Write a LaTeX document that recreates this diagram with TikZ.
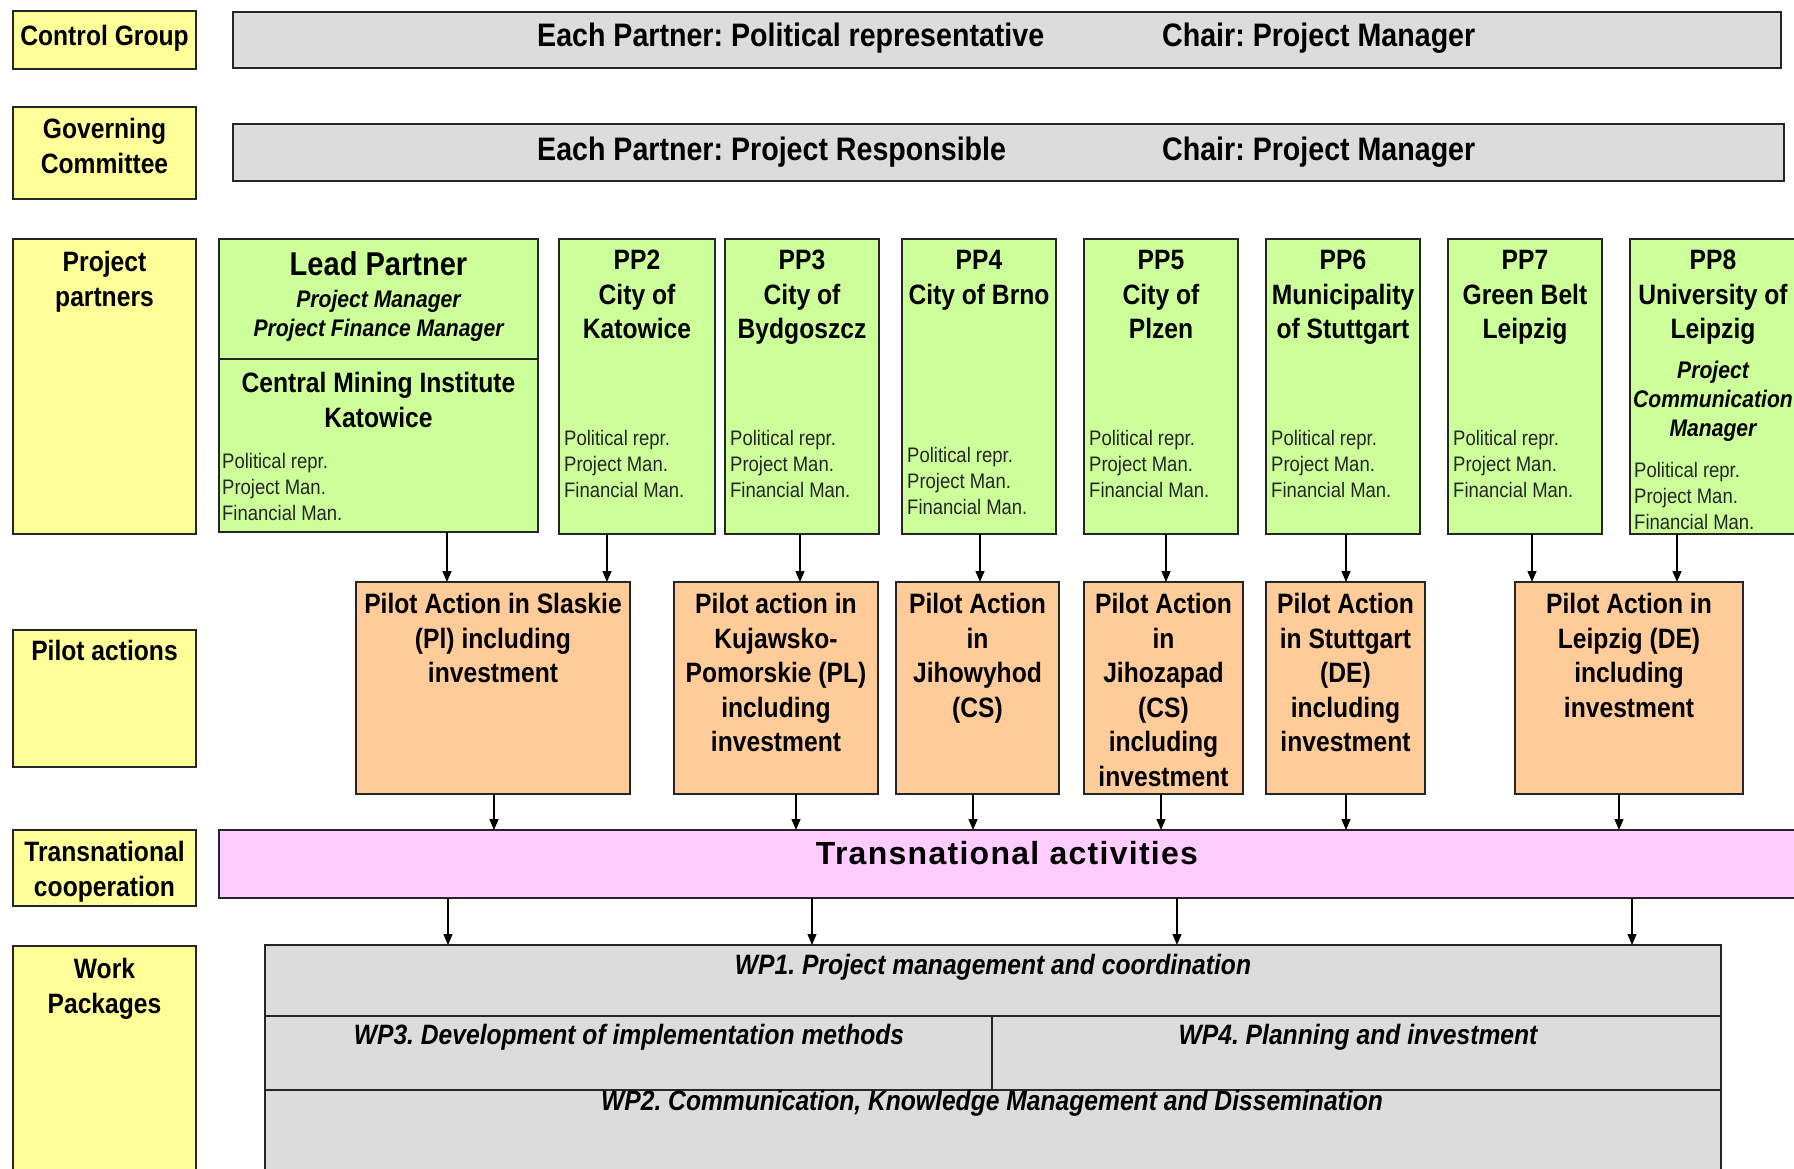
\documentclass[tikz,border=0pt]{standalone}
\usepackage{fontspec}
\setmainfont{Liberation Sans}[FakeStretch=0.88]
\newfontfamily\widefont{Liberation Sans}[LetterSpace=4]
\usetikzlibrary{arrows.meta}
\definecolor{ylw}{RGB}{255,255,153}
\definecolor{grn}{RGB}{204,255,153}
\definecolor{pch}{RGB}{255,204,153}
\definecolor{pnk}{RGB}{255,204,255}
\definecolor{gry}{RGB}{220,220,220}
\newcommand\fs[2]{\fontsize{#1}{#2}\selectfont}
% style, name, x1, y1, x2, y2
\newcommand\mkbox[6]{\node[#1, minimum width={#5pt-#3pt}, minimum height={#6pt-#4pt}] (#2) at (#3,#4) {};}
\frenchspacing
\begin{document}
\frenchspacing
\begin{tikzpicture}[x=1pt,y=-1pt,
  box/.style={draw=black!85, line width=1.6pt, inner sep=0pt, outer sep=0pt, anchor=north west},
  ybox/.style={box, fill=ylw},
  gbox/.style={box, fill=grn},
  obox/.style={box, fill=pch},
  pbox/.style={box, fill=pnk},
  grbox/.style={box, fill=gry},
  lbl/.style={font=\fs{28}{34.6}\bfseries, align=center, inner sep=0pt, anchor=north},
  big/.style={font=\fs{33}{38}\bfseries, align=center, inner sep=0pt, anchor=north},
  small/.style={font=\fs{21}{26}, align=left, inner sep=0pt, anchor=north west, text=black!85},
  ital/.style={font=\fs{24}{29}\bfseries\itshape, align=center, inner sep=0pt, anchor=north},
  wpt/.style={font=\fs{28}{34}\bfseries\itshape, inner sep=0pt},
  bart/.style={font=\fs{32.5}{38}\bfseries, inner sep=0pt, anchor=north west},
  arr/.style={-{Triangle[length=11pt,width=9pt]}, line width=1.3pt, black}]
\useasboundingbox (0,0) rectangle (1794,1169);
\fill[white] (0,0) rectangle (1794,1169);
\clip (0,0) rectangle (1794,1169);

% left yellow labels
\mkbox{ybox}{cg}{13}{11}{196}{69}
\mkbox{ybox}{gc}{13}{107}{196}{199}
\mkbox{ybox}{pp}{13}{239}{196}{534}
\mkbox{ybox}{pa}{13}{630}{196}{767}
\mkbox{ybox}{tc}{13}{830}{196}{906}
\mkbox{ybox}{wpk}{13}{946}{196}{1185}

% gray bars
\mkbox{grbox}{bar1}{233}{12}{1781}{68}
\mkbox{grbox}{bar2}{233}{124}{1784}{181}

% partner boxes
\mkbox{gbox}{lp}{219}{239}{538}{532}
\draw[draw=black!85, line width=1.6pt] (lp.west |- 0,359) -- (lp.east |- 0,359);
\mkbox{gbox}{pp2}{559}{239}{715}{534}
\mkbox{gbox}{pp3}{725}{239}{879}{534}
\mkbox{gbox}{pp4}{902}{239}{1056}{534}
\mkbox{gbox}{pp5}{1084}{239}{1238}{534}
\mkbox{gbox}{pp6}{1266}{239}{1420}{534}
\mkbox{gbox}{pp7}{1448}{239}{1602}{534}
\mkbox{gbox}{pp8}{1630}{239}{1800}{534}

% pilot actions
\mkbox{obox}{pa1}{356}{582}{630}{794}
\mkbox{obox}{pa2}{674}{582}{878}{794}
\mkbox{obox}{pa3}{896}{582}{1059}{794}
\mkbox{obox}{pa4}{1084}{582}{1243}{794}
\mkbox{obox}{pa5}{1266}{582}{1425}{794}
\mkbox{obox}{pa6}{1515}{582}{1743}{794}

% transnational
\mkbox{pbox}{tr}{219}{830}{1800}{898}

% work packages
\mkbox{grbox}{wp1}{265}{945}{1721}{1016}
\mkbox{grbox}{wp3}{265}{1016}{992}{1090}
\mkbox{grbox}{wp4}{992}{1016}{1721}{1090}
\mkbox{grbox}{wp2}{265}{1090}{1721}{1185}

% arrows partners -> pilots
\draw[arr] (lp.south -| 447,0) -- (pa1.north -| 447,0);
\draw[arr] (pp2.south -| 607,0) -- (pa1.north -| 607,0);
\draw[arr] (pp3.south -| 800,0) -- (pa2.north -| 800,0);
\draw[arr] (pp4.south -| 980,0) -- (pa3.north -| 980,0);
\draw[arr] (pp5.south -| 1166,0) -- (pa4.north -| 1166,0);
\draw[arr] (pp6.south -| 1346,0) -- (pa5.north -| 1346,0);
\draw[arr] (pp7.south -| 1532,0) -- (pa6.north -| 1532,0);
\draw[arr] (pp8.south -| 1677,0) -- (pa6.north -| 1677,0);
% pilots -> transnational
\draw[arr] (pa1.south -| 494,0) -- (tr.north -| 494,0);
\draw[arr] (pa2.south -| 796,0) -- (tr.north -| 796,0);
\draw[arr] (pa3.south -| 973,0) -- (tr.north -| 973,0);
\draw[arr] (pa4.south -| 1161,0) -- (tr.north -| 1161,0);
\draw[arr] (pa5.south -| 1346,0) -- (tr.north -| 1346,0);
\draw[arr] (pa6.south -| 1619,0) -- (tr.north -| 1619,0);
% transnational -> WP
\draw[arr] (tr.south -| 448,0) -- (wp1.north -| 448,0);
\draw[arr] (tr.south -| 812,0) -- (wp1.north -| 812,0);
\draw[arr] (tr.south -| 1177,0) -- (wp1.north -| 1177,0);
\draw[arr] (tr.south -| 1632,0) -- (wp1.north -| 1632,0);

% label texts
\node[lbl] (cgt) at (104.5,25) {Control Group};
\node[lbl] (gct) at (104.5,118) {Governing\\Committee};
\node[lbl] (ppt) at (104.5,251) {Project\\partners};
\node[lbl] (pat) at (104.5,640) {Pilot actions};
\node[lbl] (tct) at (104.5,841) {Transnational\\cooperation};
\node[lbl] (wpkt) at (104.5,958) {Work\\Packages};

% bar texts
\node[bart] (r1a) at (537,23) {Each Partner: Political representative};
\node[bart] (r1b) at (1162,23) {Chair: Project Manager};
\node[bart] (r2a) at (537,137) {Each Partner: Project Responsible};
\node[bart] (r2b) at (1162,137) {Chair: Project Manager};

% lead partner texts
\node[big] (lpt) at (378.5,251) {Lead Partner};
\node[ital] (lpi) at (378.5,290) {Project Manager\\Project Finance Manager};
\node[lbl] (lpc) at (378.5,372) {Central Mining Institute\\Katowice};
\node[small] (lps) at (222,453.5) {Political repr.\\Project Man.\\Financial Man.};

% partner headers
\node[lbl] (pp2t) at (637,250) {PP2\\City of\\Katowice};
\node[lbl] (pp3t) at (802,250) {PP3\\City of\\Bydgoszcz};
\node[lbl] (pp4t) at (979,250) {PP4\\City of Brno};
\node[lbl] (pp5t) at (1161,250) {PP5\\City of\\Plzen};
\node[lbl] (pp6t) at (1343,250) {PP6\\Municipality\\of Stuttgart};
\node[lbl] (pp7t) at (1525,250) {PP7\\Green Belt\\Leipzig};
\node[lbl] (pp8t) at (1713,250) {PP8\\University of\\Leipzig};
\node[ital] (pp8i) at (1713,361) {Project\\Communication\\Manager};

% partner small texts
\node[small] (pp2s) at (564,430.5) {Political repr.\\Project Man.\\Financial Man.};
\node[small] (pp3s) at (730,430.5) {Political repr.\\Project Man.\\Financial Man.};
\node[small] (pp4s) at (907,447.5) {Political repr.\\Project Man.\\Financial Man.};
\node[small] (pp5s) at (1089,430.5) {Political repr.\\Project Man.\\Financial Man.};
\node[small] (pp6s) at (1271,430.5) {Political repr.\\Project Man.\\Financial Man.};
\node[small] (pp7s) at (1453,430.5) {Political repr.\\Project Man.\\Financial Man.};
\node[small] (pp8s) at (1634,462.5) {Political repr.\\Project Man.\\Financial Man.};

% pilot texts
\node[lbl] (pa1t) at (493,593) {Pilot Action in Slaskie\\(Pl) including\\investment};
\node[lbl] (pa2t) at (776,593) {Pilot action in\\Kujawsko-\\Pomorskie (PL)\\including\\investment};
\node[lbl] (pa3t) at (977.5,593) {Pilot Action\\in\\Jihowyhod\\(CS)};
\node[lbl] (pa4t) at (1163.5,593) {Pilot Action\\in\\Jihozapad\\(CS)\\including\\investment};
\node[lbl] (pa5t) at (1345.5,593) {Pilot Action\\in Stuttgart\\(DE)\\including\\investment};
\node[lbl] (pa6t) at (1629,593) {Pilot Action in\\Leipzig (DE)\\including\\investment};

% transnational text
\node[font=\fs{32}{36}\widefont\bfseries, inner sep=0pt] (trt) at (1007,853) {Transnational activities};

% WP texts
\node[wpt] (wp1t) at (993,967) {WP1. Project management and coordination};
\node[wpt] (wp3t) at (629,1037) {WP3. Development of implementation methods};
\node[wpt] (wp4t) at (1358,1037) {WP4. Planning and investment};
\node[wpt] (wp2t) at (992,1103) {WP2. Communication, Knowledge Management and Dissemination};
\end{tikzpicture}
\end{document}
